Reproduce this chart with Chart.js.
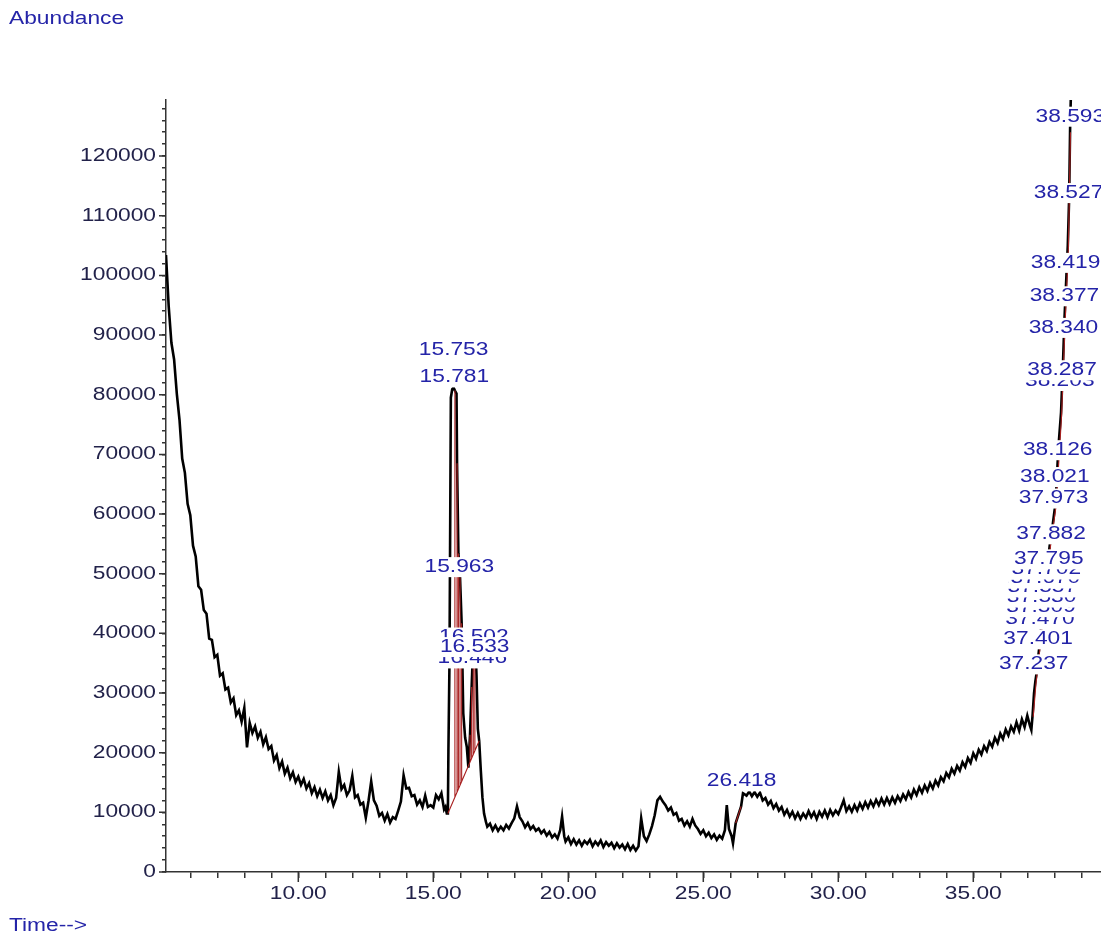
<!DOCTYPE html>
<html>
<head>
<meta charset="utf-8">
<script src="https://cdn.jsdelivr.net/npm/chart.js@4"></script>
<style>
  html, body { margin: 0; padding: 0; background: #fff; overflow: hidden; }
  canvas { display: block; }
</style>
</head>
<body>
<canvas id="tic" width="1101" height="933"></canvas>
<script>
// retention time (min) of every sampled point of the TIC trace
const retentionTime = [
  5.1, 5.2, 5.3, 5.4, 5.5, 5.6, 5.7, 5.8, 5.9,
  6.0, 6.1, 6.2, 6.3, 6.4, 6.5, 6.6, 6.7, 6.8, 6.9,
  7.0, 7.1, 7.2, 7.3, 7.4, 7.5, 7.6, 7.7, 7.8, 7.9,
  8.0, 8.1, 8.2, 8.3, 8.4, 8.5, 8.6, 8.7, 8.8, 8.9,
  9.0, 9.1, 9.2, 9.3, 9.4, 9.5, 9.6, 9.7, 9.8, 9.9,
  10.0, 10.1, 10.2, 10.3, 10.4, 10.5, 10.6, 10.7, 10.8, 10.9,
  11.0, 11.1, 11.2, 11.3, 11.4, 11.5, 11.6, 11.7, 11.8, 11.9,
  12.0, 12.1, 12.2, 12.3, 12.4, 12.5, 12.6, 12.7, 12.8, 12.9,
  13.0, 13.1, 13.2, 13.3, 13.4, 13.5, 13.6, 13.7, 13.8, 13.9,
  14.0, 14.1, 14.2, 14.3, 14.4, 14.5, 14.6, 14.7, 14.8, 14.9,
  15.0, 15.1, 15.2, 15.3, 15.4, 15.45, 15.5,
  15.54, 15.56, 15.60, 15.65, 15.70, 15.75, 15.80, 15.86, 15.88, 15.93,
  15.99, 16.05, 16.11, 16.18, 16.24, 16.30, 16.36, 16.42, 16.48, 16.54,
  16.60, 16.65, 16.70, 16.76, 16.82, 16.88, 16.95,
  17.0, 17.1, 17.2, 17.3, 17.4, 17.5, 17.6, 17.7, 17.8, 17.9,
  18.0, 18.1, 18.2, 18.3, 18.4, 18.5, 18.6, 18.7, 18.8, 18.9,
  19.0, 19.1, 19.2, 19.3, 19.4, 19.5, 19.6, 19.7, 19.77, 19.85, 19.9,
  20.0, 20.1, 20.2, 20.3, 20.4, 20.5, 20.6, 20.7, 20.8, 20.9,
  21.0, 21.1, 21.2, 21.3, 21.4, 21.5, 21.6, 21.7, 21.8, 21.9,
  22.0, 22.1, 22.2, 22.3, 22.4, 22.5, 22.6, 22.7, 22.8, 22.9,
  23.0, 23.1, 23.2, 23.3, 23.4, 23.5, 23.6, 23.7, 23.8, 23.9,
  24.0, 24.1, 24.2, 24.3, 24.4, 24.5, 24.6, 24.7, 24.8, 24.9,
  25.0, 25.1, 25.2, 25.3, 25.4, 25.5, 25.6, 25.7, 25.8, 25.87, 25.95,
  26.05, 26.1, 26.2, 26.3, 26.4, 26.47, 26.6, 26.7, 26.8, 26.9,
  27.0, 27.1, 27.2, 27.3, 27.4, 27.5, 27.6, 27.7, 27.8, 27.9,
  28.0, 28.1, 28.2, 28.3, 28.4, 28.5, 28.6, 28.7, 28.8, 28.9,
  29.0, 29.1, 29.2, 29.3, 29.4, 29.5, 29.6, 29.7, 29.8, 29.9,
  30.0, 30.1, 30.2, 30.3, 30.4, 30.5, 30.6, 30.7, 30.8, 30.9,
  31.0, 31.1, 31.2, 31.3, 31.4, 31.5, 31.6, 31.7, 31.8, 31.9,
  32.0, 32.1, 32.2, 32.3, 32.4, 32.5, 32.6, 32.7, 32.8, 32.9,
  33.0, 33.1, 33.2, 33.3, 33.4, 33.5, 33.6, 33.7, 33.8, 33.9,
  34.0, 34.1, 34.2, 34.3, 34.4, 34.5, 34.6, 34.7, 34.8, 34.9,
  35.0, 35.1, 35.2, 35.3, 35.4, 35.5, 35.6, 35.7, 35.8, 35.9,
  36.0, 36.1, 36.2, 36.3, 36.4, 36.5, 36.6, 36.7, 36.8, 36.9,
  37.0, 37.1, 37.15, 37.2, 37.25, 37.3, 37.35, 37.45, 37.55, 37.65, 37.75, 37.85, 37.95,
  38.05, 38.15, 38.25, 38.32, 38.38, 38.45, 38.50, 38.55, 38.59, 38.62
];

// abundance at each retention time above
const abundance = [
  103400, 94800, 88700, 85900, 80200, 75800, 69300, 66900, 61700,
  59800, 54700, 52900, 47900, 47300, 43900, 43300, 39100, 38900, 36000,
  36400, 32900, 33300, 30600, 30900, 28400, 29100, 26300, 27100, 25200,
  27500, 20900, 25000, 23300, 24400, 22500, 23500, 21400, 22600, 20600,
  21100, 18700, 19600, 17400, 18500, 16500, 17500, 15700, 16700, 15100,
  16000, 14600, 15600, 14000, 14900, 13200, 14200, 12700, 13800, 12400,
  13500, 12000, 12900, 11200, 12400, 16800, 13900, 14600, 12900, 13700,
  16100, 12500, 12900, 11300, 11600, 9100, 11900, 15200, 12000, 11100,
  9400, 9900, 8600, 9700, 8300, 9200, 8900, 10300, 11800, 16200,
  14000, 14100, 12700, 12900, 11300, 12000, 10900, 12800, 10900, 11200,
  10800, 12900, 12200, 13200, 10500, 10900, 9800,
  9800, 20300, 35400, 79500, 80900, 81200, 80700, 80200, 68500, 53400,
  49400, 41700, 26600, 22500, 21000, 17500, 23000, 31000, 38500, 40500,
  33000, 24000, 22000, 17000, 12500, 9800, 8400,
  7600, 8100, 7000, 7800, 6900, 7600, 7000, 7900, 7300, 8200,
  9000, 11000, 9200, 8500, 7500, 8200, 7200, 7700, 6900, 7300,
  6500, 7000, 6100, 6700, 5800, 6300, 5600, 7000, 9300, 6000, 5100,
  5800, 4700, 5500, 4600, 5300, 4400, 5200, 4700, 5400, 4300,
  5100, 4500, 5300, 4200, 5000, 4400, 4900, 4000, 4800, 4100,
  4600, 3800, 4700, 3700, 4400, 3600, 4300, 9000, 6000, 5200,
  6300, 7700, 9500, 12000, 12600, 11800, 11200, 10300, 10800, 9600,
  9900, 8600, 8900, 7800, 8500, 7600, 8900, 7800, 7200, 6400,
  7000, 6000, 6600, 5700, 6300, 5400, 6100, 5600, 7000, 11200, 7200,
  6000, 4800, 8200, 9600, 11000, 13200, 12800, 13500, 12700, 13400,
  12600, 13300, 12000, 12400, 11300, 11900, 10700, 11400, 10300, 10900,
  9600, 10400, 9300, 10100, 9000, 9900, 8900, 9800, 9100, 10200,
  9200, 10000, 8900, 10100, 9300, 10300, 9200, 10400, 9500, 10300,
  9700, 10800, 12000, 10200, 11000, 10100, 11200, 10300, 11500, 10600,
  11700, 10800, 11900, 11000, 12100, 11200, 12300, 11300, 12400, 11400,
  12500, 11600, 12700, 11900, 13000, 12200, 13400, 12500, 13800, 12900,
  14200, 13300, 14500, 13600, 14900, 14000, 15300, 14500, 15900, 15200,
  16600, 15900, 17300, 16500, 17800, 17000, 18400, 17600, 19100, 18300,
  19900, 19000, 20500, 19700, 21100, 20300, 21800, 21000, 22500, 21600,
  23200, 22300, 23900, 22900, 24400, 23500, 25100, 23700, 25600, 24300,
  26200, 24500, 23800, 26500, 30000, 32000, 33500, 38000, 43000, 47500, 51500, 55500, 58500,
  62000, 71000, 77000, 85000, 93000, 100000, 105000, 113000, 126000, 131000
];

// integration baselines (red), one list of times and abundances per segment
const baselineTimes = [
  [15.54, 16.70],
  [26.20, 26.40],
  [37.22, 37.32, 37.47, 37.67, 37.87, 38.07, 38.27, 38.40, 38.52, 38.60]
];
const baselineLevels = [
  [9800, 22000],
  [8200, 11000],
  [26000, 31500, 37500, 47000, 55000, 61500, 76500, 92000, 104000, 124000]
];

// red drop lines under the 15.7 - 16.6 cluster
const dropTimes = [15.80, 15.88, 15.93, 15.99, 16.05, 16.36, 16.42, 16.48, 16.54];
const dropFeet  = [12500, 13400, 13900, 14500, 15200, 18400, 19100, 19700, 20300];
const dropTops  = [80700, 68500, 53400, 49400, 41700, 23000, 31000, 38500, 40500];

// peak labels (retention time text) and the abundance their text sits at
const peakLabels = [
  '15.753', '15.781', '15.963', '16.446', '16.502', '16.533', '26.418',
  '37.237', '37.401', '37.470', '37.509', '37.530', '37.557', '37.670', '37.702',
  '37.795', '37.882', '37.973', '38.021', '38.126', '38.203', '38.287',
  '38.340', '38.377', '38.419', '38.527', '38.593'
];
const peakLabelLevels = [
  87500, 82900, 51100, 35800, 39300, 37700, 15200,
  34800, 39000, 42400, 44400, 46000, 47700, 49200, 50700,
  52400, 56600, 62600, 66200, 70700, 82300, 84100,
  91200, 96500, 102100, 113800, 126600
];

const xMajorTicks = [10, 15, 20, 25, 30, 35];
const yMajorTicks = [0, 10000, 20000, 30000, 40000, 50000, 60000, 70000, 80000, 90000, 100000, 110000, 120000];

const FONT = '17.5px "Liberation Sans", Arial, sans-serif';
const STRETCH = 1.3;
const AXIS_COLOR = '#333333';
const TICK_TEXT = '#22224a';
const BLUE = '#2424a8';
const RED = '#a82020';

function traceData() {
  return retentionTime.map((t, i) => ({ x: t, y: abundance[i] }));
}

function redData() {
  const pts = [];
  baselineTimes.forEach((seg, s) => {
    seg.forEach((t, i) => pts.push({ x: t, y: baselineLevels[s][i] }));
    pts.push({ x: seg[seg.length - 1], y: null });
  });
  dropTimes.forEach((t, i) => {
    pts.push({ x: t, y: dropFeet[i] });
    pts.push({ x: t, y: dropTops[i] });
    pts.push({ x: t, y: null });
  });
  return pts;
}

function stretchedText(ctx, text, x, y, align, color) {
  ctx.save();
  ctx.translate(x, y);
  ctx.scale(STRETCH, 1);
  ctx.font = FONT;
  ctx.fillStyle = color;
  ctx.textAlign = align;
  ctx.textBaseline = 'middle';
  ctx.fillText(text, 0, 0);
  ctx.restore();
}

const overlay = {
  id: 'overlay',
  afterDraw(chart) {
    const ctx = chart.ctx;
    const xs = chart.scales.x;
    const ys = chart.scales.y;
    const area = chart.chartArea;

    // longer marks at labelled ticks
    ctx.save();
    ctx.strokeStyle = AXIS_COLOR;
    ctx.lineWidth = 1.5;
    ctx.beginPath();
    xMajorTicks.forEach(v => {
      const px = xs.getPixelForValue(v);
      ctx.moveTo(px, area.bottom);
      ctx.lineTo(px, area.bottom + 10);
    });
    yMajorTicks.forEach(v => {
      const py = ys.getPixelForValue(v);
      ctx.moveTo(area.left - 7, py);
      ctx.lineTo(area.left, py);
    });
    ctx.stroke();
    ctx.restore();

    xMajorTicks.forEach(v => {
      stretchedText(ctx, v.toFixed(2), xs.getPixelForValue(v), area.bottom + 22, 'center', TICK_TEXT);
    });
    yMajorTicks.forEach(v => {
      stretchedText(ctx, String(v), area.left - 10, ys.getPixelForValue(v), 'right', TICK_TEXT);
    });

    stretchedText(ctx, 'Abundance', 9, 19, 'left', BLUE);
    stretchedText(ctx, 'Time-->', 9, 926, 'left', BLUE);

    // peak labels on white boxes, later ones cover earlier ones
    ctx.save();
    ctx.font = FONT;
    peakLabels.forEach((txt, i) => {
      const px = xs.getPixelForValue(parseFloat(txt));
      const py = ys.getPixelForValue(peakLabelLevels[i]);
      const w = ctx.measureText(txt).width * STRETCH + 4;
      ctx.fillStyle = '#ffffff';
      ctx.fillRect(px - w / 2, py - 10, w, 20);
      stretchedText(ctx, txt, px, py, 'center', BLUE);
    });
    ctx.restore();
  }
};

new Chart(document.getElementById('tic'), {
  type: 'line',
  data: {
    datasets: [
      {
        label: 'integration',
        data: redData(),
        borderColor: RED,
        borderWidth: 1.1,
        spanGaps: false,
        order: 0
      },
      {
        label: 'TIC',
        data: traceData(),
        borderColor: '#000000',
        borderWidth: 2.6,
        borderJoinStyle: 'miter',
        order: 1
      }
    ]
  },
  options: {
    responsive: false,
    animation: false,
    devicePixelRatio: 1,
    layout: { padding: { top: 100, left: 0, right: 0, bottom: 0 } },
    elements: { point: { radius: 0 }, line: { tension: 0 } },
    plugins: { legend: { display: false }, tooltip: { enabled: false } },
    scales: {
      x: {
        type: 'linear',
        min: 5.1,
        max: 39.73,
        afterBuildTicks: axis => {
          const t = [];
          for (let v = 6; v <= 39; v++) t.push({ value: v });
          axis.ticks = t;
        },
        afterFit: axis => { axis.height = 61; },
        ticks: { display: false },
        grid: { drawOnChartArea: false, drawTicks: true, tickLength: 6, color: AXIS_COLOR, lineWidth: 1.5 },
        border: { display: true, color: AXIS_COLOR, width: 1.5 }
      },
      y: {
        type: 'linear',
        min: 0,
        max: 129400,
        afterBuildTicks: axis => {
          const t = [];
          for (let v = 0; v <= 128000; v += 2000) t.push({ value: v });
          axis.ticks = t;
        },
        afterFit: axis => { axis.width = 166; },
        ticks: { display: false },
        grid: { drawOnChartArea: false, drawTicks: true, tickLength: 4, color: AXIS_COLOR, lineWidth: 1.5 },
        border: { display: true, color: AXIS_COLOR, width: 1.5 }
      }
    }
  },
  plugins: [overlay]
});
</script>
</body>
</html>
